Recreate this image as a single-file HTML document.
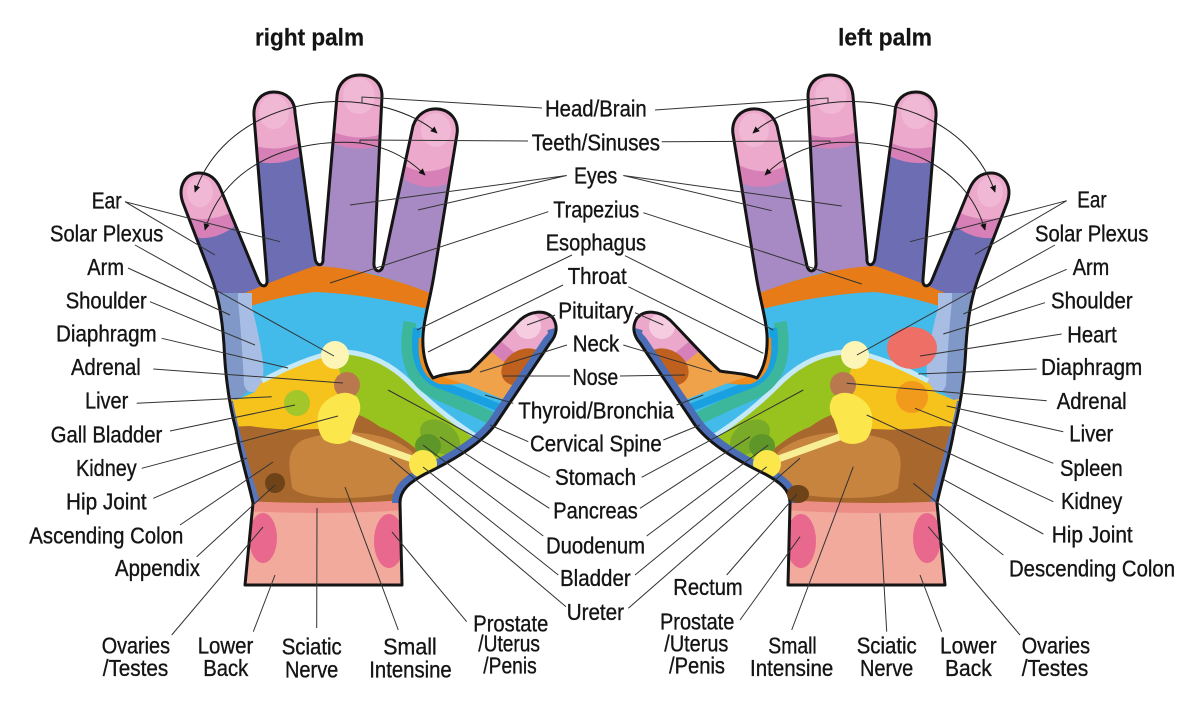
<!DOCTYPE html>
<html>
<head>
<meta charset="utf-8">
<style>
html,body{margin:0;padding:0;background:#fff;}
svg{display:block;}
text{font-family:"Liberation Sans Narrow","Liberation Sans",sans-serif;font-size:23px;fill:#141414;stroke:#141414;stroke-width:0.35px;}
.t{font-weight:bold;font-size:24px;stroke-width:0.2px;}
</style>
</head>
<body>
<svg width="1200" height="719" viewBox="0 0 1200 719" xmlns="http://www.w3.org/2000/svg">
<defs>
<marker id="ah" viewBox="0 0 10 10" refX="9" refY="5" markerWidth="7" markerHeight="7" markerUnits="userSpaceOnUse" orient="auto-start-reverse">
<path d="M0,0.5 L10,5 L0,9.5 Z" fill="#111"/>
</marker>
<clipPath id="hc">
<path id="hp" d="M245,585 L253,503 C248,480 240,455 236,430 C228,400 225,370 224,345 C222,315 218,295 211,276 L183,203 C177,186 186,173 199,173 C210,173 217,180 221,190 L258,280 C261,288 268,288 267,279 L254,116 C253,101 262,92 274,92 C286,92 295,100 295,113 L315,258 C316,267 324,267 323,258 L337,96 C338,83 347,75 360,75 C373,75 382,83 382,96 L374,262 C373,272 381,274 383,266 L413,126 C417,114 427,108 438,109 C450,110 459,120 457,134 L434,275 C430,300 424,318 423,335 C422,355 426,368 433,378 C445,373 460,373 470,371 C485,358 505,335 520,320 C530,311 545,309 553,318 C558,326 557,335 550,343 C535,365 515,395 495,425 C480,445 450,462 425,474 C410,482 400,490 400,503 L402,585 Z"/>
</clipPath>
<g id="hand">
 <g clip-path="url(#hc)">
  <rect x="150" y="50" width="430" height="560" fill="#43bbea"/>
  <path d="M150,50 L318,50 L318,268 L290,276 L252,293 L200,300 Z" fill="#6d6db4"/>
  <path d="M318,50 L480,50 L480,300 L430,296 L400,282 L370,273 L318,268 Z" fill="#a78ac3"/>
  <!-- fingertips -->
  <path d="M170,150 L240,150 L240,222 Q210,248 178,232 Z" fill="#d780b7"/>
  <path d="M170,150 L240,150 L240,208 Q205,228 175,212 Z" fill="#eca9cb"/>
  <ellipse cx="200" cy="192" rx="13" ry="15" fill="#f0b8d4"/>
  <path d="M245,80 L305,80 L305,154 Q275,170 245,158 Z" fill="#d780b7"/>
  <path d="M245,80 L305,80 L305,140 Q275,156 245,142 Z" fill="#eca9cb"/>
  <ellipse cx="274" cy="112" rx="15" ry="17" fill="#f0b8d4"/>
  <path d="M325,60 L392,60 L392,142 Q358,156 325,140 Z" fill="#d780b7"/>
  <path d="M325,60 L392,60 L392,130 Q358,146 325,128 Z" fill="#eca9cb"/>
  <ellipse cx="359" cy="96" rx="16" ry="18" fill="#f0b8d4"/>
  <path d="M400,90 L465,90 L465,175 Q432,196 405,180 Z" fill="#d780b7"/>
  <path d="M400,90 L465,90 L465,157 Q432,180 405,166 Z" fill="#eca9cb"/>
  <ellipse cx="436" cy="130" rx="15" ry="17" fill="#f0b8d4"/>
  <!-- orange band -->
  <path d="M245,293 Q285,276 315,266 Q370,268 440,297 L440,312 Q370,294 315,292 Q280,296 245,308 Z" fill="#e67b18"/>
  <!-- pale strip -->
  <path d="M200,293 L252,293 L252,308 L250,360 L247,392 L236,400 L210,402 Z" fill="#7f98c7"/>
  <path d="M238,293 L252,293 L252,308 Q258,330 262,355 Q266,380 258,390 Q248,396 244,385 Q242,340 238,300 Z" fill="#a8bde3"/>
  <!-- brown base -->
  <path d="M200,412 L358,412 Q390,425 415,440 L440,470 L410,520 L200,520 Z" fill="#a8672c"/>
  <!-- yellow -->
  <path d="M200,392 L236,400 L255,392 Q262,380 270,375 Q305,358 335,352 L342,380 L352,418 Q345,428 330,428 Q290,432 250,426 L200,428 Z" fill="#f6c21c"/>
  <!-- green -->
  <path d="M335,352 Q378,350 412,385 Q445,418 485,442 L470,455 Q445,466 425,472 L415,448 Q395,432 380,427 Q368,418 356,414 L348,420 L342,380 Z" fill="#98c31f"/>
  <path d="M262,381 Q300,360 335,352 Q378,350 412,385 Q445,418 485,442" stroke="#c6e9f7" stroke-width="5" fill="none"/>
  <ellipse cx="440" cy="437" rx="22" ry="15" transform="rotate(35 440 437)" fill="#7aab28"/>
  <ellipse cx="428" cy="446" rx="13" ry="12" fill="#5f962a"/>
  <!-- light brown blob -->
  <path d="M290,472 Q286,447 305,439 Q335,430 362,433 Q395,437 412,452 Q420,472 410,490 Q380,498 340,498 Q302,498 292,488 Z" fill="#c6843f"/>
  <!-- wrist -->
  <path d="M200,506 Q320,514 430,506 L430,600 L200,600 Z" fill="#f2aa9c"/>
  <path d="M200,498 Q320,508 430,498 L430,508 Q320,518 200,508 Z" fill="#ed8e86"/>
  <ellipse cx="263" cy="538" rx="14" ry="25" fill="#e9688d"/>
  <ellipse cx="389" cy="541" rx="15" ry="27" fill="#e9688d"/>
  <!-- throat bands -->
  <path d="M410,322 Q400,375 436,393 Q465,405 495,420" stroke="#3db79c" stroke-width="13" fill="none"/>
  <path d="M417,328 Q411,372 438,384 Q468,395 500,408" stroke="#18a0e0" stroke-width="8" fill="none"/>
  <path d="M423,338 Q420,372 440,380 Q458,382 472,376" stroke="#ef8a1d" stroke-width="8" fill="none"/>
  <!-- thumb -->
  <path d="M438,373 L480,330 L540,290 L590,320 L540,390 L505,398 Z" fill="#eca8ca"/>
  <circle cx="528" cy="326" r="13" fill="#f5cce0"/>
  <path d="M482.7,326.2 L551.9,383.8 L542.9,394.5 L473.7,336.9 Z" fill="#d580b8"/>
  <path d="M473.7,336.9 L542.9,394.5 L505,400 L470,386 L438,375 L455,352 Z" fill="#f0a24a"/>
  <ellipse cx="523" cy="367" rx="23" ry="17" transform="rotate(-30 523 367)" fill="#c0601e"/>
  <!-- edge strips -->
  <path d="M555,328 C557,335 557,335 550,343 C535,365 515,395 495,425 C480,445 450,462 425,474 C410,482 400,490 400,503" stroke="#4b6db6" stroke-width="16" fill="none"/>
  <path d="M226,402 C230,425 235,440 239,455 C244,475 249,490 253,503" stroke="#5a76bc" stroke-width="14" fill="none"/>
  <!-- organs -->
  <circle cx="335" cy="355" r="14" fill="#fcf5b6"/>
  <circle cx="347" cy="385" r="13" fill="#b9784d"/>
  <path d="M345,435 L423,463" stroke="#f8ee95" stroke-width="7" stroke-linecap="round"/>
  <path d="M330,398 Q345,388 357,397 Q364,408 356,420 Q352,432 350,440 Q338,448 324,440 Q316,430 318,415 Q320,404 330,398 Z" fill="#fbe64c"/>
  <circle cx="423" cy="464" r="14" fill="#fbe64c"/>
 </g>
 <use href="#hp" fill="none" stroke="#151515" stroke-width="3" stroke-linejoin="round"/>
 <path d="M195,192 C220,120 300,95 362,103 C400,108 425,122 437,133" fill="none" stroke="#222" stroke-width="1" marker-start="url(#ah)" marker-end="url(#ah)"/>
 <path d="M205,230 C225,160 300,138 360,143 C390,147 410,160 425,175" fill="none" stroke="#222" stroke-width="1" marker-start="url(#ah)" marker-end="url(#ah)"/>
</g>
</defs>

<use href="#hand"/>
<use href="#hand" transform="matrix(-1 0 0 1 1190 0)"/>

<!-- hand-specific spots -->
<circle cx="297" cy="403" r="13" fill="#a3c62b"/>
<circle cx="275" cy="483" r="10" fill="#6e4318"/>
<ellipse cx="912" cy="348" rx="25" ry="21" fill="#ed6f66"/>
<circle cx="912" cy="397" r="16" fill="#f29a1c"/>
<ellipse cx="798" cy="494" rx="11" ry="9" fill="#6e4318"/>

<!-- connector lines -->
<path fill="none" stroke="#333" stroke-width="1" d="
M125,201.7 L280,241.7 M125,201.7 L215,255
M135,245 L334,356
M128,268 L230,315
M150,301.7 L255,345
M161.7,338.3 L288,368
M153.3,369 L343,383
M136.7,403.3 L271.7,396.7
M170,431 L295,405
M141.7,468.3 L338,416
M153.3,498.3 L247,458
M180,525 L273,462
M196.7,556.7 L275,485
M171.7,635 L263,527
M253.3,631.7 L275,575
M316.7,628 L317,508
M398.3,630 L345,487
M466.7,621.7 L392,532
M542,108 L362,97 L362,103
M528,141 L360,140 L360,143
M566.7,175.5 L350,205 M566.7,175.5 L418,210
M548.3,211.7 L330,283
M572,255 L417,330
M563,285 L428,352
M555,315 L527,325
M567,345 L480,372
M570,376 L503,376
M513.3,403.3 L485,395
M528.3,441.7 L490,425
M550,477.3 L388,390
M549.3,508.3 L440,437
M543.3,536 L423,445
M558.3,575 L423,467
M566,606.7 L390,458
M655,110 L828,98 L828,103
M661.7,141.7 L830,141 L830,143
M623.3,175.5 L771.7,210.7 M623.3,175.5 L841.7,206
M643.3,212.7 L861.7,284
M625,255.7 L773.3,330
M628.3,286.7 L763.3,353.3
M635,312.7 L663.3,325
M623.3,345 L711.7,371.7
M620,376 L685,375
M676.7,405 L703.3,395
M663.3,440 L700,425
M641.7,477.3 L803.3,390
M640,508.3 L750,436.7
M646.7,536 L768.3,445
M635,575 L766.7,466.7
M628.3,608.3 L800,458.3
M726.7,575 L797,494
M740,620 L800,536.7
M791.7,630 L853.3,466.7
M886.7,631.7 L880,513.3
M941.7,631.7 L920,575
M1020,635 L928.3,526.7
M1066.7,200.7 L910,241.7 M1066.7,200.7 L975,254.3
M1055,245 L857,355
M1066.7,269.3 L963.3,314
M1045,302.7 L943.3,334
M1061.7,334 L920,356
M1036.7,369 L918.3,374
M1046.7,400.7 L846.7,383.3
M1063.3,431.7 L946.7,406
M1053.3,463.3 L915,408.3
M1053.3,501.7 L866.7,415
M1043.3,534 L943.3,479.3
M1003.3,555 L913.3,483.3
"/>

<!-- titles -->
<text class="t" x="255" y="45.5" textLength="109" lengthAdjust="spacingAndGlyphs">right palm</text>
<text class="t" x="838" y="45.5" textLength="94" lengthAdjust="spacingAndGlyphs">left palm</text>

<!-- left column -->
<text x="91.7" y="208.3" textLength="30" lengthAdjust="spacingAndGlyphs">Ear</text>
<text x="50" y="241.7" textLength="113.3" lengthAdjust="spacingAndGlyphs">Solar Plexus</text>
<text x="87.3" y="275" textLength="36.7" lengthAdjust="spacingAndGlyphs">Arm</text>
<text x="65.7" y="308.3" textLength="81" lengthAdjust="spacingAndGlyphs">Shoulder</text>
<text x="56" y="341.7" textLength="100.7" lengthAdjust="spacingAndGlyphs">Diaphragm</text>
<text x="71" y="375" textLength="69.7" lengthAdjust="spacingAndGlyphs">Adrenal</text>
<text x="85" y="408.3" textLength="43.3" lengthAdjust="spacingAndGlyphs">Liver</text>
<text x="50.7" y="442.7" textLength="111.6" lengthAdjust="spacingAndGlyphs">Gall Bladder</text>
<text x="76" y="476" textLength="60.7" lengthAdjust="spacingAndGlyphs">Kidney</text>
<text x="66" y="509.3" textLength="80.7" lengthAdjust="spacingAndGlyphs">Hip Joint</text>
<text x="29.3" y="543.3" textLength="154" lengthAdjust="spacingAndGlyphs">Ascending Colon</text>
<text x="115" y="576" textLength="85" lengthAdjust="spacingAndGlyphs">Appendix</text>

<!-- bottom right palm -->
<text x="101.7" y="653.3" textLength="68.3" lengthAdjust="spacingAndGlyphs">Ovaries</text>
<text x="102.7" y="676" textLength="65.6" lengthAdjust="spacingAndGlyphs">/Testes</text>
<text x="197.7" y="653.3" textLength="55.6" lengthAdjust="spacingAndGlyphs">Lower</text>
<text x="203.3" y="676" textLength="45" lengthAdjust="spacingAndGlyphs">Back</text>
<text x="281.7" y="654.3" textLength="60" lengthAdjust="spacingAndGlyphs">Sciatic</text>
<text x="285" y="677.3" textLength="53.3" lengthAdjust="spacingAndGlyphs">Nerve</text>
<text x="383.3" y="654.3" textLength="53.4" lengthAdjust="spacingAndGlyphs">Small</text>
<text x="369.3" y="677.3" textLength="82.4" lengthAdjust="spacingAndGlyphs">Intensine</text>
<text x="473.3" y="631.7" textLength="75" lengthAdjust="spacingAndGlyphs">Prostate</text>
<text x="478.3" y="651.7" textLength="61.7" lengthAdjust="spacingAndGlyphs">/Uterus</text>
<text x="483.3" y="673.3" textLength="53.4" lengthAdjust="spacingAndGlyphs">/Penis</text>

<!-- center -->
<text x="545" y="116.7" textLength="101.7" lengthAdjust="spacingAndGlyphs">Head/Brain</text>
<text x="531.7" y="150.7" textLength="128.3" lengthAdjust="spacingAndGlyphs">Teeth/Sinuses</text>
<text x="574" y="183.3" textLength="43.3" lengthAdjust="spacingAndGlyphs">Eyes</text>
<text x="553.3" y="217.3" textLength="86" lengthAdjust="spacingAndGlyphs">Trapezius</text>
<text x="545.7" y="250.7" textLength="100.3" lengthAdjust="spacingAndGlyphs">Esophagus</text>
<text x="567.7" y="284" textLength="59" lengthAdjust="spacingAndGlyphs">Throat</text>
<text x="558.3" y="318.3" textLength="75" lengthAdjust="spacingAndGlyphs">Pituitary</text>
<text x="572.7" y="351.7" textLength="46.6" lengthAdjust="spacingAndGlyphs">Neck</text>
<text x="572.7" y="385" textLength="45.6" lengthAdjust="spacingAndGlyphs">Nose</text>
<text x="518.3" y="418.3" textLength="155.7" lengthAdjust="spacingAndGlyphs">Thyroid/Bronchia</text>
<text x="530" y="451.7" textLength="131.7" lengthAdjust="spacingAndGlyphs">Cervical Spine</text>
<text x="555" y="485" textLength="81" lengthAdjust="spacingAndGlyphs">Stomach</text>
<text x="553.3" y="518.3" textLength="84.4" lengthAdjust="spacingAndGlyphs">Pancreas</text>
<text x="546" y="553.3" textLength="99" lengthAdjust="spacingAndGlyphs">Duodenum</text>
<text x="560" y="586" textLength="70.7" lengthAdjust="spacingAndGlyphs">Bladder</text>
<text x="566.7" y="620" textLength="57.3" lengthAdjust="spacingAndGlyphs">Ureter</text>
<text x="673.3" y="595" textLength="69.4" lengthAdjust="spacingAndGlyphs">Rectum</text>
<text x="660" y="629.3" textLength="74.3" lengthAdjust="spacingAndGlyphs">Prostate</text>
<text x="664.3" y="651.7" textLength="64" lengthAdjust="spacingAndGlyphs">/Uterus</text>
<text x="669" y="673.3" textLength="56" lengthAdjust="spacingAndGlyphs">/Penis</text>

<!-- right column -->
<text x="1077.3" y="207.7" textLength="29.4" lengthAdjust="spacingAndGlyphs">Ear</text>
<text x="1035" y="241.7" textLength="113.3" lengthAdjust="spacingAndGlyphs">Solar Plexus</text>
<text x="1072.7" y="275" textLength="36.6" lengthAdjust="spacingAndGlyphs">Arm</text>
<text x="1051" y="308.3" textLength="81.7" lengthAdjust="spacingAndGlyphs">Shoulder</text>
<text x="1067.3" y="342.3" textLength="49.4" lengthAdjust="spacingAndGlyphs">Heart</text>
<text x="1041" y="375" textLength="101.3" lengthAdjust="spacingAndGlyphs">Diaphragm</text>
<text x="1056.7" y="409" textLength="70" lengthAdjust="spacingAndGlyphs">Adrenal</text>
<text x="1069.3" y="441.7" textLength="44" lengthAdjust="spacingAndGlyphs">Liver</text>
<text x="1060" y="476" textLength="62.7" lengthAdjust="spacingAndGlyphs">Spleen</text>
<text x="1061" y="509" textLength="61.3" lengthAdjust="spacingAndGlyphs">Kidney</text>
<text x="1051.7" y="542.3" textLength="81" lengthAdjust="spacingAndGlyphs">Hip Joint</text>
<text x="1009" y="576.7" textLength="166" lengthAdjust="spacingAndGlyphs">Descending Colon</text>

<!-- bottom left palm -->
<text x="768.3" y="653.3" textLength="48.4" lengthAdjust="spacingAndGlyphs">Small</text>
<text x="750" y="676" textLength="83.3" lengthAdjust="spacingAndGlyphs">Intensine</text>
<text x="856.7" y="653.3" textLength="60" lengthAdjust="spacingAndGlyphs">Sciatic</text>
<text x="860" y="676" textLength="53.3" lengthAdjust="spacingAndGlyphs">Nerve</text>
<text x="940" y="653.3" textLength="56.7" lengthAdjust="spacingAndGlyphs">Lower</text>
<text x="945" y="676" textLength="46.7" lengthAdjust="spacingAndGlyphs">Back</text>
<text x="1021.7" y="653.3" textLength="68.3" lengthAdjust="spacingAndGlyphs">Ovaries</text>
<text x="1021.7" y="676" textLength="66.6" lengthAdjust="spacingAndGlyphs">/Testes</text>
</svg>
</body>
</html>
